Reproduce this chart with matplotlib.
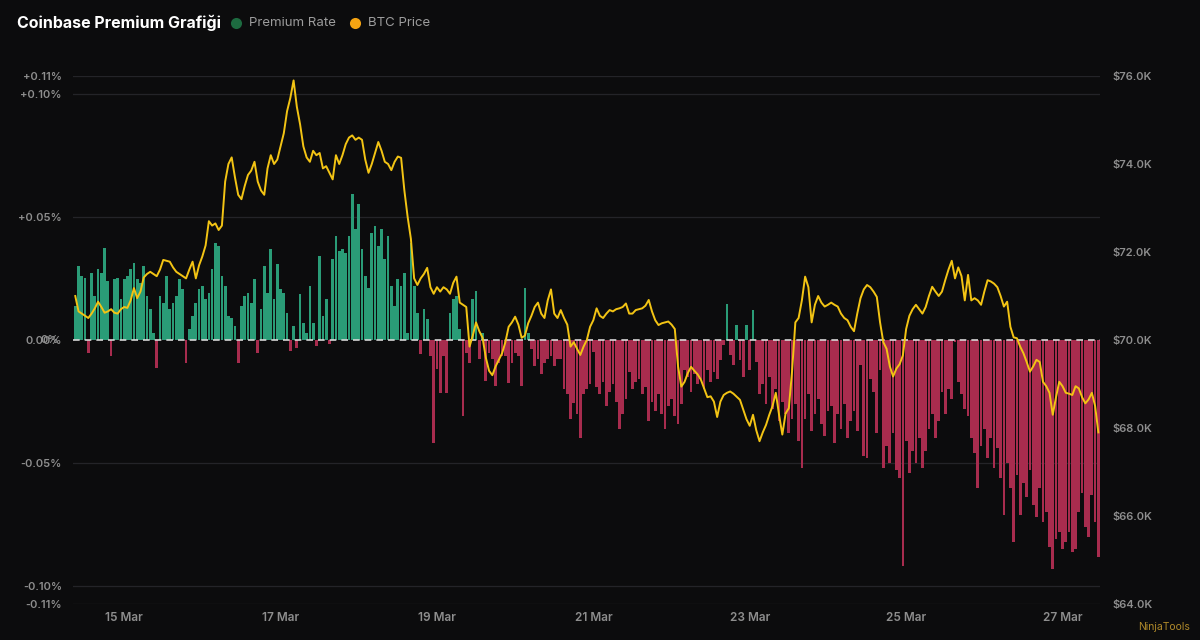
import matplotlib
matplotlib.use("Agg")
import matplotlib.pyplot as plt
import matplotlib.dates as mdates
from matplotlib.lines import Line2D
import pandas as pd

# ---------------- data ----------------
START = "2026-03-14 09:00"

premium_rate = [
    0.0138, 0.0301, 0.026, 0.0253, -0.0051, 0.0274, 0.0179, 0.0287, 0.0274, 0.0375,
    0.024, -0.0065, 0.0247, 0.0253, 0.0165, 0.0247, 0.026, 0.0287, 0.0314, 0.0247,
    0.0233, 0.0301, 0.0179, 0.0125, 0.003, -0.0112, 0.0179, 0.0152, 0.026, 0.0125,
    0.0152, 0.0179, 0.0247, 0.0206, -0.0092, 0.0043, 0.0098, 0.0152, 0.0206, 0.022,
    0.0165, 0.0192, 0.0287, 0.0396, 0.0382, 0.026, 0.022, 0.0098, 0.0091, 0.0057,
    -0.0092, 0.0138, 0.0179, 0.0192, 0.0152, 0.0247, -0.0051, 0.0125, 0.0301, 0.0192,
    0.0369, 0.0165, 0.0308, 0.0206, 0.0192, 0.0111, -0.0045, 0.0057, -0.0031, 0.0186,
    0.007, 0.003, 0.022, 0.007, -0.0024, 0.0341, 0.0098, 0.0165,
    -0.0018, 0.0328, 0.0423, 0.0362, 0.0369, 0.0355, 0.0423, 0.0592, 0.045, 0.0551,
    0.0369, 0.026, 0.0213, 0.0436, 0.0463, 0.0382, 0.045, 0.0328, 0.0423, 0.022,
    0.0138, 0.0247, 0.022, 0.0274, 0.003, 0.0396, 0.022, 0.0111, -0.0058, 0.0125,
    0.0084, -0.0065, -0.0417, -0.0119, -0.0214, -0.0065, -0.0214, 0.0111, 0.0165, 0.0179,
    0.0043, -0.0309, -0.0051, -0.0092, 0.0165, 0.0199, -0.0079, 0.003, -0.0167, -0.0051,
    -0.0079, -0.0187, -0.0092, -0.0065, -0.0065, -0.0173, -0.0092, -0.0051, -0.0065, -0.0187,
    0.0213, 0.003, -0.0038, -0.0106, -0.0079, -0.014, -0.0092, -0.0079, -0.0065, -0.0106,
    -0.0079, -0.0079, -0.02, -0.0221, -0.0322, -0.0255,
    -0.03, -0.04, -0.022, -0.02, -0.018, -0.005, -0.019, -0.022, -0.017, -0.027,
    -0.021, -0.018, -0.025, -0.036, -0.03, -0.024, -0.013, -0.02, -0.017, -0.016,
    -0.022, -0.019, -0.033, -0.025, -0.029, -0.022, -0.03, -0.036, -0.027, -0.024,
    -0.031, -0.034, -0.026, -0.012, -0.015, -0.021, -0.014, -0.018, -0.016, -0.02,
    -0.012, -0.017, -0.013, -0.016, -0.008, -0.002, 0.0145, -0.006, -0.01, 0.006,
    -0.008, -0.015, 0.006, -0.012, 0.012, -0.009, -0.022, -0.018, -0.026, -0.015,
    -0.028, -0.02, -0.033, -0.025, -0.03, -0.038, -0.032, -0.026, -0.041, -0.052,
    -0.032, -0.022, -0.037, -0.03, -0.024, -0.034, -0.039, -0.029,
    -0.027, -0.042, -0.03, -0.036, -0.026, -0.04, -0.033, -0.029, -0.037, -0.01,
    -0.047, -0.048, -0.016, -0.021, -0.038, -0.012, -0.052, -0.043, -0.05, -0.038,
    -0.053, -0.056, -0.092, -0.041, -0.054, -0.045, -0.05, -0.04, -0.052, -0.045,
    -0.036, -0.03, -0.04, -0.033, -0.021, -0.03, -0.02, -0.024, -0.001, -0.017,
    -0.022, -0.028, -0.031, -0.04, -0.046, -0.06, -0.043, -0.036, -0.048, -0.04,
    -0.052, -0.044, -0.056, -0.071, -0.05, -0.06, -0.082, -0.055, -0.071, -0.058,
    -0.064, -0.053, -0.067, -0.072, -0.06, -0.074, -0.07, -0.084, -0.093, -0.081,
    -0.078, -0.085, -0.082, -0.078, -0.086, -0.085, -0.07, -0.062, -0.076, -0.08,
    -0.063, -0.074, -0.088,
]

btc_price_k = [
    71.0, 70.65, 70.6, 70.55, 70.5, 70.6, 70.72, 70.87, 70.75, 70.62,
    70.65, 70.7, 70.62, 70.6, 70.7, 70.75, 70.73, 70.9, 71.18, 70.95,
    71.1, 71.42, 71.5, 71.55, 71.5, 71.45, 71.6, 71.82, 71.8, 71.78,
    71.65, 71.55, 71.5, 71.45, 71.4, 71.6, 71.78, 71.4, 71.7, 71.9,
    72.15, 72.7, 72.6, 72.65, 72.5, 72.6, 73.6, 74.0, 74.15, 73.7,
    73.3, 73.2, 73.5, 73.75, 73.85, 74.05, 73.6, 73.4, 73.3, 73.9,
    74.2, 74.0, 74.1, 74.4, 74.7, 75.2, 75.5, 75.9, 75.3, 74.9,
    74.4, 74.15, 74.05, 74.3, 74.2, 74.25, 73.9, 73.95, 73.8, 73.65,
    74.2, 74.0, 74.2, 74.45, 74.6, 74.65, 74.55, 74.6, 74.55, 74.1,
    73.8, 74.0, 74.25, 74.5, 74.3, 74.05, 74.0, 73.86, 74.05, 74.17,
    74.14, 73.4, 72.8, 72.3, 71.4, 71.25, 71.4, 71.5, 71.64, 71.2,
    71.05, 71.2, 71.1, 71.2, 71.15, 71.05, 71.3, 71.44, 70.85, 70.8,
    70.75, 69.85, 70.1, 70.4, 70.2, 70.05, 69.6, 69.3, 69.2, 69.4,
    69.55, 69.7, 69.95, 70.3, 70.4, 70.53, 70.35, 70.05, 70.1, 70.38,
    70.55, 70.75, 70.85, 70.6, 70.5, 70.9, 71.15, 70.6, 70.5, 70.68,
    70.5, 70.35, 69.85, 69.95, 69.8, 69.66, 69.85, 70.0, 70.3, 70.45,
    70.72, 70.55, 70.5, 70.6, 70.68, 70.65, 70.7, 70.72, 70.75, 70.83,
    70.6, 70.6, 70.68, 70.7, 70.72, 70.78, 70.91, 70.65, 70.45, 70.34,
    70.38, 70.4, 70.42, 70.35, 70.25, 69.4, 68.94, 69.05, 69.25, 69.39,
    69.3, 69.22, 69.1, 68.9, 68.7, 68.72, 68.6, 68.25, 68.6, 68.75,
    68.8, 68.83, 68.78, 68.71, 68.64, 68.42, 68.2, 68.05, 68.3, 67.95,
    67.7, 67.9, 68.07, 68.3, 68.5, 68.8, 68.3, 67.85, 68.33, 68.45,
    69.3, 70.4, 70.5, 70.9, 71.44, 71.2, 70.4, 70.8, 71.0, 70.85,
    70.76, 70.8, 70.85, 70.8, 70.76, 70.6, 70.5, 70.45, 70.3, 70.2,
    70.6, 70.95, 71.15, 71.25, 71.2, 71.1, 70.98, 70.4, 69.95, 69.8,
    69.4, 69.17, 69.35, 69.45, 69.65, 70.25, 70.55, 70.7, 70.8, 70.7,
    70.6, 70.75, 71.0, 71.21, 71.1, 71.0, 71.1, 71.36, 71.6, 71.8,
    71.4, 71.65, 71.45, 70.9, 71.48, 70.9, 70.95, 70.9, 70.8, 71.1,
    71.36, 71.33, 71.28, 71.2, 71.0, 70.76, 70.87, 70.3, 70.06, 70.04,
    69.85, 69.7, 69.5, 69.28, 69.4, 69.55, 69.5, 69.05, 68.95, 68.8,
    68.3, 68.7, 69.05, 68.95, 68.8, 68.78, 68.75, 68.95, 68.9, 68.7,
    68.56, 68.65, 68.8, 68.5, 67.9,
]

# the outer left labels sit at the axis ends (range ±0.1073 %, shown rounded)
premium_limit = 0.1073
left_ticks = [0.1073, 0.10, 0.05, 0.0, -0.05, -0.10, -0.1073]
left_labels = ["+0.11%", "+0.10%", "+0.05%", "0.00%", "-0.05%", "-0.10%", "-0.11%"]
right_ticks = [64, 66, 68, 70, 72, 74, 76]
right_labels = ["$64.0K", "$66.0K", "$68.0K", "$70.0K", "$72.0K", "$74.0K", "$76.0K"]
x_tick_dates = ["2026-03-15", "2026-03-17", "2026-03-19", "2026-03-21",
                "2026-03-23", "2026-03-25", "2026-03-27"]

# ---------------- style ----------------
BG = "#0c0c0d"
GREEN = "#2a9c77"
RED = "#a82c4e"
GOLD = "#f3c414"
TICK = "#8e8e8e"
GRID = "#242428"
FONT = "Inter"
plt.rcParams["font.family"] = [FONT, "DejaVu Sans"]

W, H = 1200, 640
fig = plt.figure(figsize=(W / 100, H / 100), dpi=100, facecolor=BG)
ax = fig.add_axes([73 / W, 36 / H, 1027 / W, 528 / H])
ax.set_facecolor(BG)

times = pd.date_range(START, periods=len(premium_rate), freq="h")
colors = [GREEN if v >= 0 else RED for v in premium_rate]
ax.bar(times, premium_rate, width=0.84 / 24, color=colors, linewidth=0, zorder=2)

for t in left_ticks:
    if t != 0:
        ax.axhline(t, color=GRID, lw=0.9, zorder=0)
ax.axhline(0, color="#d6d6d6", lw=1.2, ls=(0, (4, 3)), zorder=3)

ax.set_ylim(-premium_limit, premium_limit)
ax.set_xlim(times[0] - pd.Timedelta(minutes=42), times[-1] + pd.Timedelta(minutes=30))
ax.set_yticks(left_ticks)
ax.set_yticklabels(left_labels)
ax.set_xticks(pd.to_datetime(x_tick_dates))
ax.xaxis.set_major_formatter(mdates.DateFormatter("%d %b"))
ax.tick_params(axis="y", length=0, pad=8, labelsize=8, labelcolor=TICK)
ax.tick_params(axis="x", length=0, pad=6, labelsize=8.5, labelcolor=TICK)
for s in ax.spines.values():
    s.set_visible(False)
for lab in ax.get_yticklabels() + ax.get_xticklabels():
    lab.set_fontweight("semibold")

# overlapping zero label as in the reference
ax.annotate("0%", xy=(0, 0), xycoords=("axes fraction", "data"),
            xytext=(-14, 0), textcoords="offset pixels", ha="right", va="center",
            fontsize=8, color=TICK, fontweight="semibold")

ax2 = ax.twinx()
ax2.plot(times, btc_price_k, color=GOLD, lw=1.4, zorder=5, solid_joinstyle="round")
ax2.set_ylim(64, 76)
ax2.set_yticks(right_ticks)
ax2.set_yticklabels(right_labels)
ax2.tick_params(axis="y", length=0, pad=9, labelsize=8, labelcolor=TICK)
for lab in ax2.get_yticklabels():
    lab.set_fontweight("semibold")
for s in ax2.spines.values():
    s.set_visible(False)

# title and legend
fig.text(17 / W, 1 - 23 / H, "Coinbase Premium Grafiği", color="white",
         fontsize=11.5, fontweight="bold", va="center", ha="left")
fig.add_artist(Line2D([236 / W], [1 - 23 / H], marker="o", ms=8, color="#1d6b40",
                      markeredgewidth=0, transform=fig.transFigure))
fig.text(249 / W, 1 - 23 / H, "Premium Rate", color="#9c9c9c", fontsize=9.5,
         va="center", ha="left")
fig.add_artist(Line2D([355 / W], [1 - 23 / H], marker="o", ms=8, color="#f5a412",
                      markeredgewidth=0, transform=fig.transFigure))
fig.text(368 / W, 1 - 23 / H, "BTC Price", color="#9c9c9c", fontsize=9.5,
         va="center", ha="left")

# watermark
fig.text(1138 / W, 1 - 627 / H, "NinjaTools", color="#b08a2a", fontsize=7.5,
         va="center", ha="left")

fig.savefig("out.png", dpi=100, facecolor=BG)
